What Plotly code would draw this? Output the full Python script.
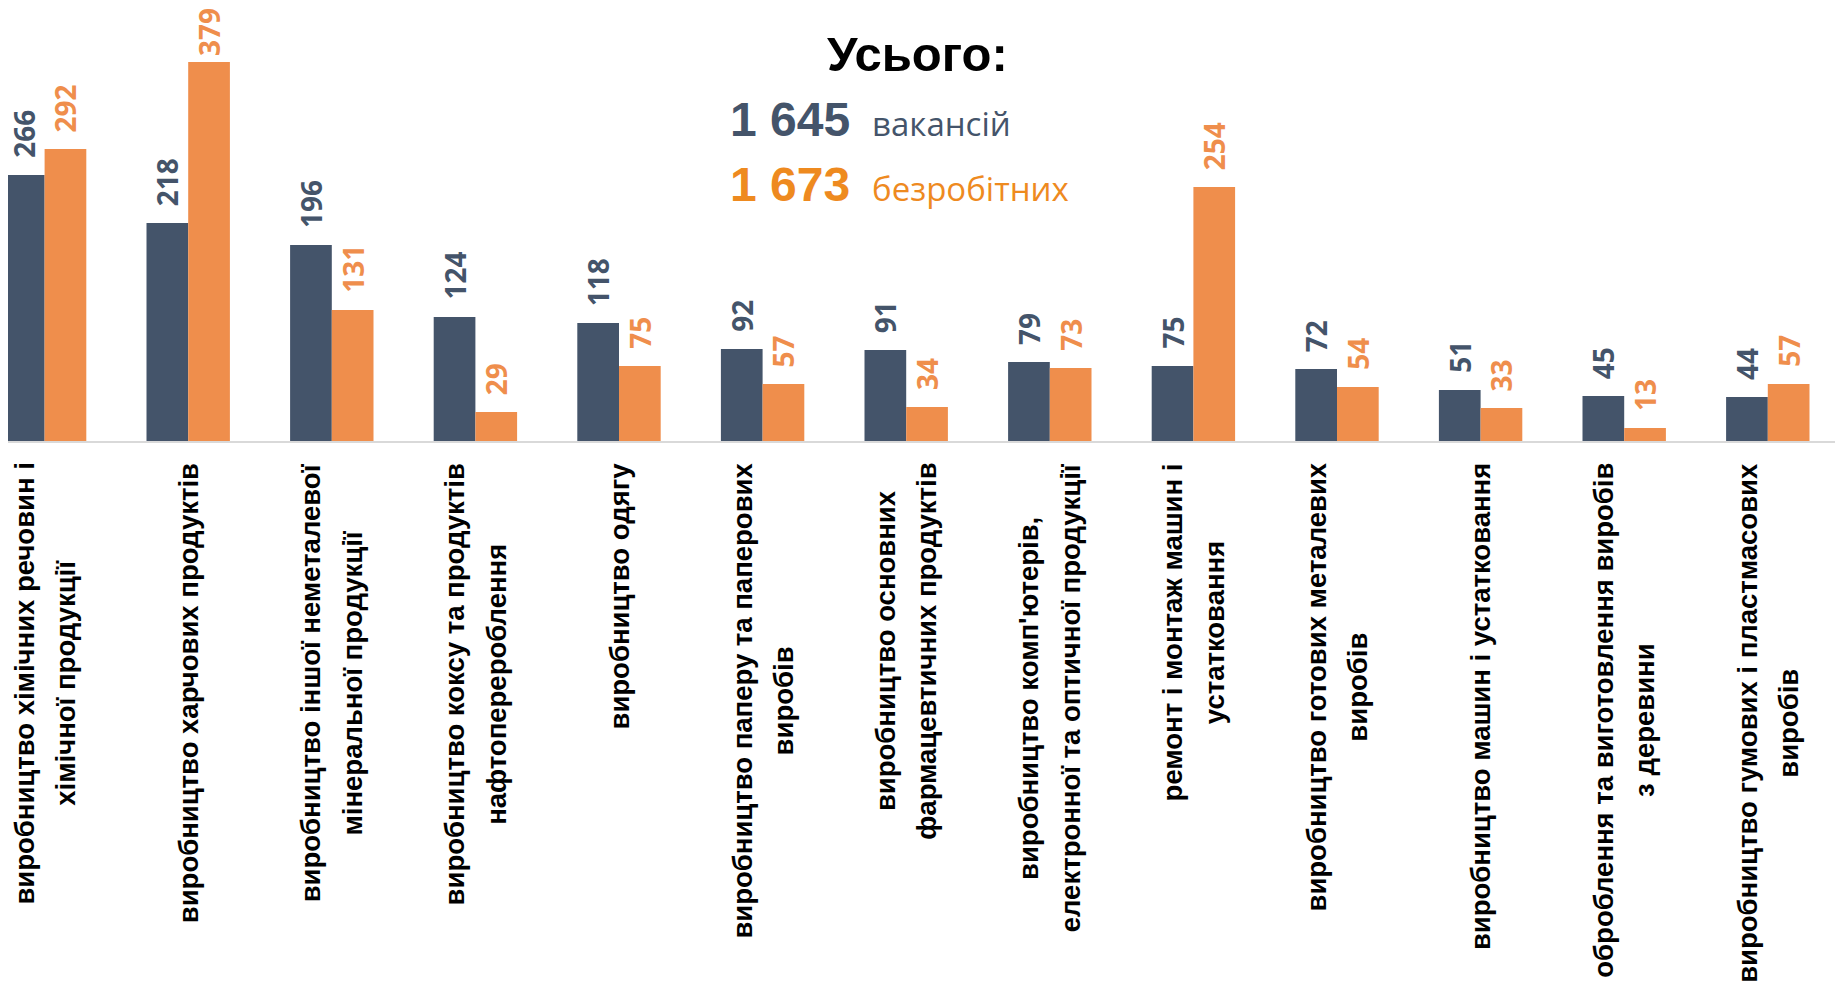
import plotly.graph_objects as go

categories = [
    "виробництво хімічних речовин і хімічної продукції",
    "виробництво харчових продуктів",
    "виробництво іншої неметалевої мінеральної продукції",
    "виробництво коксу та продуктів нафтоперероблення",
    "виробництво одягу",
    "виробництво паперу та паперових виробів",
    "виробництво основних фармацевтичних продуктів",
    "виробництво комп'ютерів, електронної та оптичної продукції",
    "ремонт і монтаж машин і устатковання",
    "виробництво готових металевих виробів",
    "виробництво машин і устатковання",
    "оброблення та виготовлення виробів з деревини",
    "виробництво гумових і пластмасових виробів",
]
tick_labels = [
    ["виробництво хімічних речовин і", "хімічної продукції"],
    ["виробництво харчових продуктів"],
    ["виробництво іншої неметалевої", "мінеральної продукції"],
    ["виробництво коксу та продуктів", "нафтоперероблення"],
    ["виробництво одягу"],
    ["виробництво паперу та паперових", "виробів"],
    ["виробництво основних", "фармацевтичних продуктів"],
    ["виробництво комп'ютерів,", "електронної та оптичної продукції"],
    ["ремонт і монтаж машин і", "устатковання"],
    ["виробництво готових металевих", "виробів"],
    ["виробництво машин і устатковання"],
    ["оброблення та виготовлення виробів", "з деревини"],
    ["виробництво гумових і пластмасових", "виробів"],
]
vacancies = [266, 218, 196, 124, 118, 92, 91, 79, 75, 72, 51, 45, 44]
unemployed = [292, 379, 131, 29, 75, 57, 34, 73, 254, 54, 33, 13, 57]

total_vac = "1 645"
total_unemp = "1 673"

DARK = "#44546A"
ORANGE = "#EF8E4C"
ORANGE_TXT = "#EE8A1F"

W, H = 1843, 985
OFF = 8               # page body margin
AXIS_Y = 441 - OFF    # pixel row of the category axis inside the figure
PLOT_H = AXIS_Y
CAT_W = 143.6         # pixels per category
X0 = 44.6 - OFF       # pixel centre of first category
BAR_W = 41.7
LABEL_LEN = 50        # approx. length of a rotated 3-digit label


def label_shift(v):
    # keep the label inside the figure when the bar is close to the top
    return max(2, min(15, (PLOT_H - v) - LABEL_LEN))


fig = go.Figure()
fig.add_trace(go.Bar(x=categories, y=vacancies, name="вакансій",
                     marker=dict(color=DARK, line=dict(width=0))))
fig.add_trace(go.Bar(x=categories, y=unemployed, name="безробітних",
                     marker=dict(color=ORANGE, line=dict(width=0))))

anns = []
# data labels
for series, color, side in [(vacancies, DARK, -1), (unemployed, ORANGE, 1)]:
    for c, v in zip(categories, series):
        anns.append(dict(x=c, y=v, xref="x", yref="y", text="<b>%d</b>" % v,
                         showarrow=False, textangle=-90, xanchor="center", yanchor="bottom",
                         xshift=side * BAR_W / 2, yshift=label_shift(v),
                         font=dict(family="Open Sans", size=28, color=color)))
# category labels (outer font size sets the wider line spacing)
for c, lines in zip(categories, tick_labels):
    txt = "<br>".join("<span style='font-size:27.5px'>%s</span>" % s for s in lines)
    anns.append(dict(x=c, y=0, xref="x", yref="paper", text=txt,
                     showarrow=False, textangle=-90, xanchor="center", yanchor="top",
                     align="center", yshift=-20,
                     font=dict(family="Liberation Sans", size=32, color="black", weight="bold")))


def py(px):
    return (PLOT_H - (px - OFF)) / PLOT_H


def px_x(px):
    return (px - OFF) / W


anns.append(dict(x=px_x(917), y=py(54), xref="paper", yref="paper", text="<b>Усього:</b>",
                 showarrow=False, xanchor="center", yanchor="middle",
                 font=dict(family="Liberation Sans", size=49, color="black")))
anns.append(dict(x=px_x(728), y=py(119), xref="paper", yref="paper",
                 text="<b>%s</b>&nbsp;<span style='font-family:Open Sans;font-size:33px'>&nbsp;вакансій</span>" % total_vac,
                 showarrow=False, xanchor="left", yanchor="middle",
                 font=dict(family="Liberation Sans", size=48, color=DARK)))
anns.append(dict(x=px_x(728), y=py(184), xref="paper", yref="paper",
                 text="<b>%s</b>&nbsp;<span style='font-family:Open Sans;font-size:33px'>&nbsp;безробітних</span>" % total_unemp,
                 showarrow=False, xanchor="left", yanchor="middle",
                 font=dict(family="Liberation Sans", size=48, color=ORANGE_TXT)))

x_start = -X0 / CAT_W
x_end = x_start + W / CAT_W

fig.update_layout(
    width=W, height=H,
    margin=dict(l=0, r=0, t=0, b=H - AXIS_Y, pad=0),
    plot_bgcolor="white", paper_bgcolor="white",
    barmode="group", bargap=1 - 2 * BAR_W / CAT_W, bargroupgap=0,
    showlegend=False,
    annotations=anns,
    xaxis=dict(type="category", range=[x_start, x_end], showticklabels=False,
               showline=True, linecolor="#D9D9D9", linewidth=2, ticks="",
               showgrid=False, zeroline=False, fixedrange=True),
    yaxis=dict(range=[0, PLOT_H], visible=False, showgrid=False, zeroline=False),
)

fig.write_html("out.html")
